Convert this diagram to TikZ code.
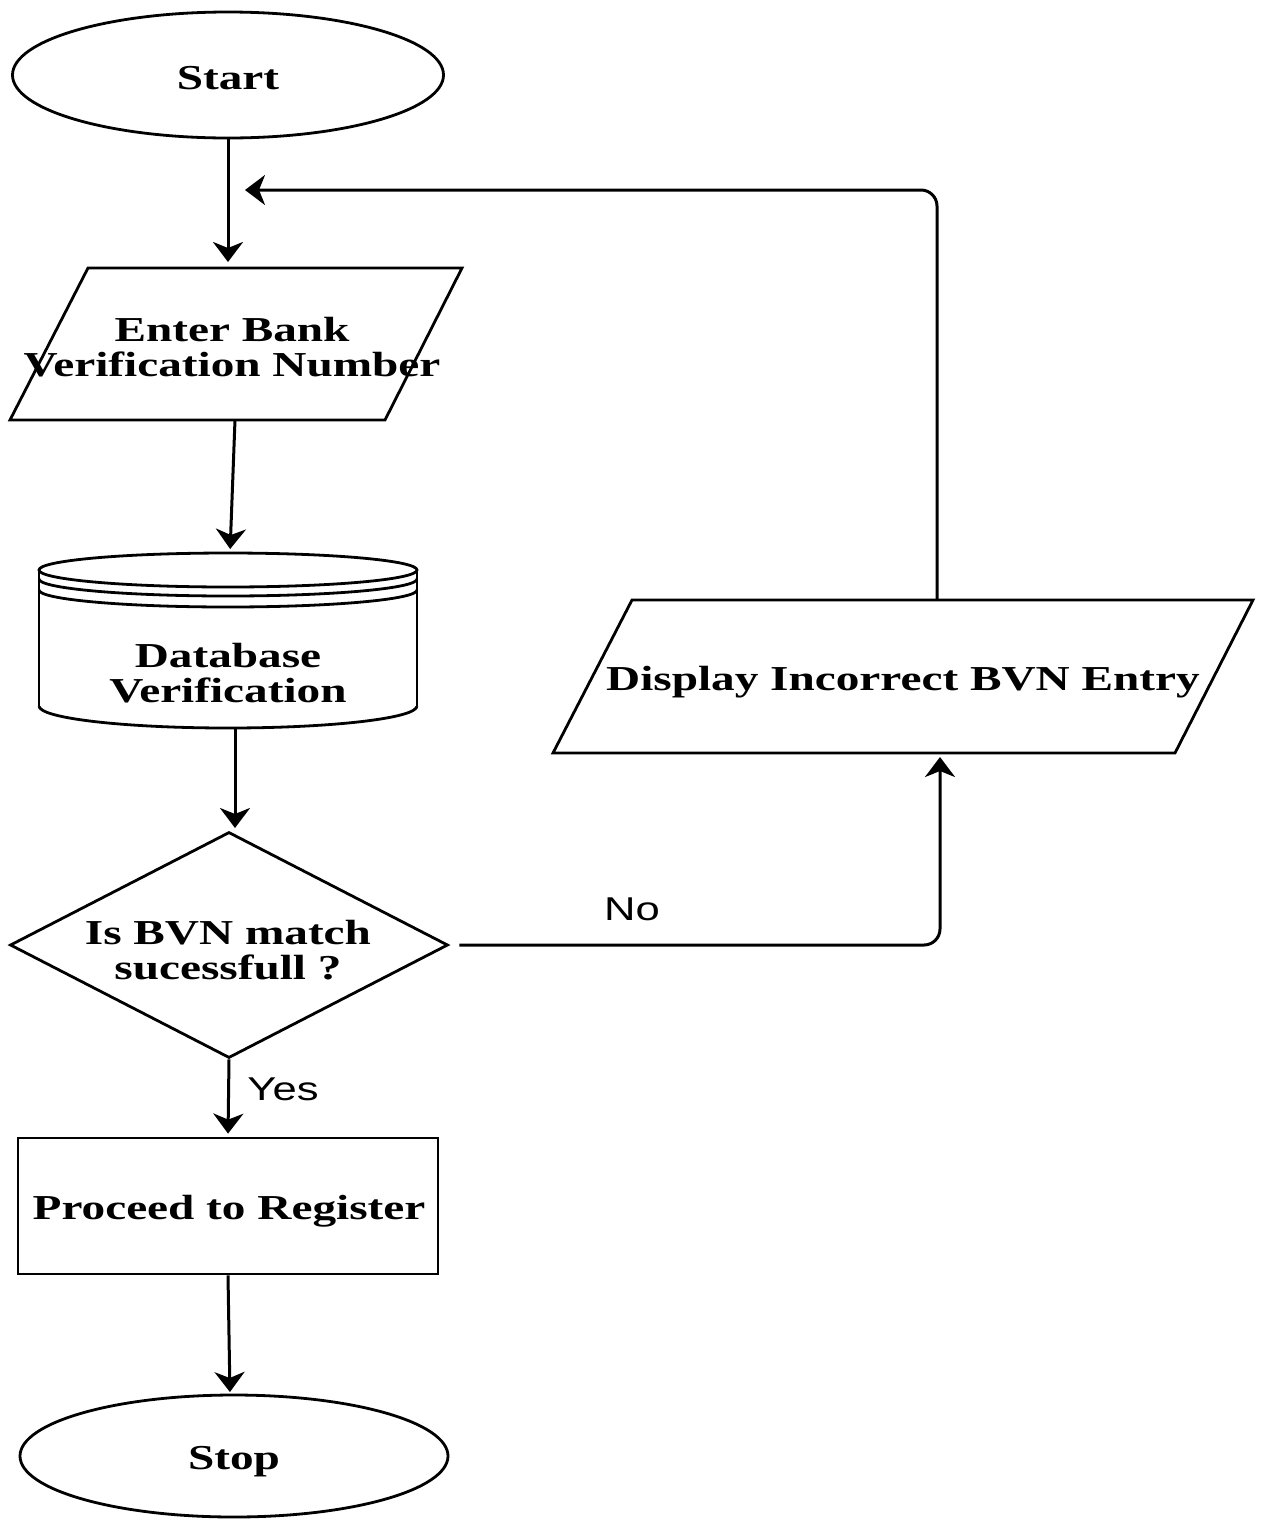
\documentclass[tikz,border=0pt]{standalone}
\usepackage{fontspec}
\setmainfont{Liberation Serif}[FakeStretch=1.35]
\setsansfont{Liberation Sans}[FakeStretch=1.32]
\usetikzlibrary{shapes.geometric,arrows.meta}
\begin{document}
\begin{tikzpicture}[x=1pt,y=-1pt,
  outline/.style={draw=black,line width=2.8pt,fill=white},
  lbl/.style={align=center,inner sep=0pt,font=\fontsize{35}{35}\selectfont\bfseries},
  edgelbl/.style={inner sep=0pt,font=\sffamily\fontsize{33}{35}\selectfont},
  arr/.style={draw=black,line width=3pt,-{Stealth[length=20pt,width=30pt,inset=6pt]}},
  term/.style={outline,ellipse,inner sep=0pt}
]
\useasboundingbox (0,0) rectangle (1262,1519);

% terminators
\node[term,minimum width=431pt,minimum height=126pt] (start) at (228,75) {};
\node[lbl] (startText) at (228,78) {Start};
\node[term,minimum width=428pt,minimum height=122pt] (stop) at (234,1456) {};
\node[lbl] (stopText) at (234,1462) {Stop};
\coordinate (stopIn) at (230,1395);

% input: enter BVN
\draw[outline] (88,268) -- (462,268) -- (385,420) -- (10,420) -- cycle;
\coordinate (bvnIn) at (228,268);
\coordinate (bvnOut) at (235,420);
\node[lbl] (bvn) at (232,347) {Enter Bank\\Verification Number};

% database store
\draw[outline] (39,706) arc[start angle=180,end angle=0,x radius=189,y radius=22];
\fill[white] (39,570) rectangle (417,706);
\draw[line width=2.8pt] (39,570) -- (39,706) (417,570) -- (417,706);
\draw[outline] (228,570) ellipse [x radius=189,y radius=17];
\draw[line width=2.8pt] (39,579) arc[start angle=180,end angle=0,x radius=189,y radius=17];
\draw[line width=2.8pt] (39,590) arc[start angle=180,end angle=0,x radius=189,y radius=17];
\coordinate (dbIn) at (230,553);
\coordinate (dbOut) at (235,728);
\node[lbl] (db) at (228,673) {Database\\Verification};

% decision
\node[outline,diamond,minimum width=438pt,minimum height=226pt,inner sep=0pt] (dec) at (229,945) {};
\coordinate (decIn) at (235,832);
\node[lbl] (decText) at (228,950) {Is BVN match\\sucessfull ?};

% output: incorrect entry
\draw[outline] (632,600) -- (1253,600) -- (1175,753) -- (553,753) -- cycle;
\coordinate (dispIn) at (940,753);
\coordinate (dispOut) at (937,600);
\node[lbl] (disp) at (903,682) {Display Incorrect BVN Entry};

% process
\node[outline,minimum width=420pt,minimum height=136pt,inner sep=0pt] (reg) at (228,1206) {};
\node[lbl] (regText) at (229,1211) {Proceed to Register};

% loop-back target
\coordinate (loopEnd) at (245,190);

% connectors
\draw[arr,shorten >=6pt] (start.south) -- (bvnIn);
\draw[arr,shorten >=4pt] (bvnOut) -- (dbIn);
\draw[arr,shorten >=4pt] (dbOut) -- (decIn);
\draw[arr,shorten >=3pt] (dec.south) -- (reg.north);
\draw[arr,shorten >=3pt] (reg.south) -- (stopIn);
\draw[arr,rounded corners=16pt,shorten <=10pt,shorten >=4pt] (dec.east) -| (dispIn);
\draw[arr,rounded corners=16pt] (dispOut) |- (loopEnd);

% edge labels
\node[edgelbl] (no) at (632,909) {No};
\node[edgelbl] (yes) at (283,1089) {Yes};
\end{tikzpicture}
\end{document}
